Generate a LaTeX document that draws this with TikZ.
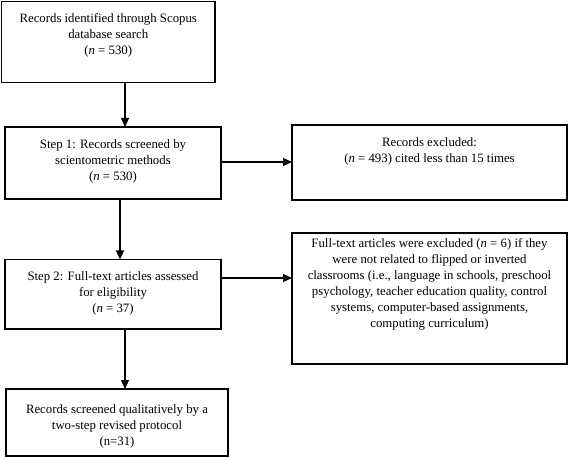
\documentclass[tikz,border=0pt]{standalone}
\usepackage{fontspec}
\setmainfont{Liberation Serif}
\usetikzlibrary{arrows.meta}
\newcommand{\boxtext}[4]{\parbox[c][#2pt][t]{#1pt}{\centering\rule{0pt}{#3pt}#4}}
\begin{document}
\begin{tikzpicture}[x=1pt,y=-1pt,
  flowbox/.style={draw=black,line width=1.2pt,inner sep=0pt,outer sep=0pt,font=\fontsize{12.8}{16}\selectfont},
  arr/.style={line width=1.2pt,-{Triangle[length=9pt,width=8pt]}}]
\useasboundingbox (0,0) rectangle (568,457);
\node[flowbox] (b1) at (108.25,42) {\boxtext{213.5}{81}{21}{Records identified through Scopus\\database search\\(\textit{n} = 530)}};
\node[flowbox] (b2) at (113,163) {\boxtext{216}{72}{22}{Step 1: Records screened by\\scientometric methods\\(\textit{n} = 530)}};
\node[flowbox] (b3) at (429.5,162.5) {\boxtext{275}{75}{21.5}{Records excluded:\\(\textit{n} = 493) cited less than 15 times}};
\node[flowbox] (b4) at (113,294.25) {\boxtext{216}{69.5}{21.5}{Step 2: Full-text articles assessed\\for eligibility\\(\textit{n} = 37)}};
\node[flowbox] (b5) at (429.5,298.5) {\boxtext{275}{131}{15}{Full-text articles were excluded (\textit{n} = 6) if they\\were not related to flipped or inverted\\classrooms (i.e., language in schools, preschool\\psychology, teacher education quality, control\\systems, computer-based assignments,\\computing curriculum)}};
\node[flowbox] (b6) at (117,422.5) {\boxtext{222}{67}{24}{Records screened qualitatively by a\\two-step revised protocol\\(n=31)}};
\coordinate (a1) at (125,0);
\coordinate (a2) at (0,162);
\coordinate (a3) at (120,0);
\coordinate (a4) at (0,278);
\coordinate (a5) at (125,0);
\draw[arr] (b1.south -| a1) -- (b2.north -| a1);
\draw[arr] (b2.east |- a2) -- (b3.west |- a2);
\draw[arr] (b2.south -| a3) -- (b4.north -| a3);
\draw[arr] (b4.east |- a4) -- (b5.west |- a4);
\draw[arr] (b4.south -| a5) -- (b6.north -| a5);
\end{tikzpicture}
\end{document}
